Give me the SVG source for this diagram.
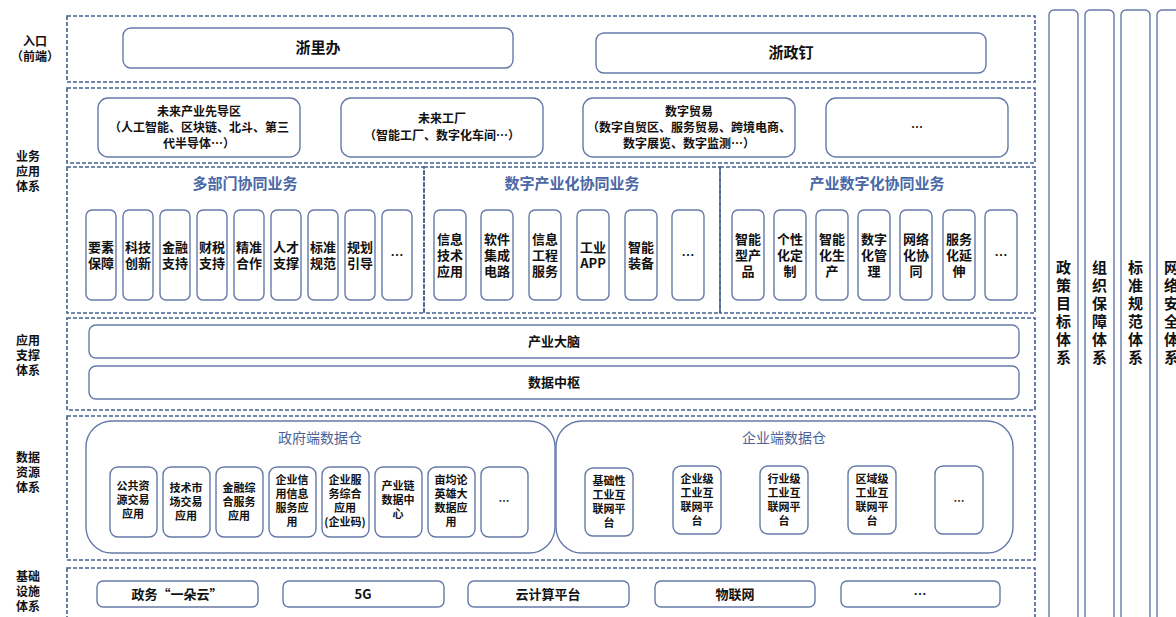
<svg xmlns="http://www.w3.org/2000/svg" width="1176" height="617" viewBox="0 0 1176 617">
<style>
.dash{fill:none;stroke:#44608f;stroke-width:1.6;stroke-dasharray:4 2}
.box{fill:#fff;stroke:#6579a8;stroke-width:1.4}
.t{font-family:"Noto Sans CJK SC","Noto Sans",sans-serif;font-weight:bold;fill:#111;text-anchor:middle}
.s12{font-size:12px}
.s11{font-size:11px}
.s13{font-size:13px}
.s15{font-size:15px}
.h{font-family:"Noto Sans CJK SC","Noto Sans",sans-serif;font-weight:bold;fill:#4a68a6;text-anchor:middle;font-size:15px}
.g{font-family:"Noto Sans CJK SC","Noto Sans",sans-serif;fill:#4d6296;text-anchor:middle;font-size:14px}
.lbl{font-family:"Noto Sans CJK SC","Noto Sans",sans-serif;font-weight:bold;fill:#111;text-anchor:middle;font-size:12px}
</style>
<rect width="1176" height="617" fill="#fff"/>

<g id="labels">
<text class="lbl" x="35" y="46">入口<tspan x="35" dy="15">（前端）</tspan></text>
<text class="lbl" x="28" y="161">业务<tspan x="28" dy="15">应用</tspan><tspan x="28" dy="15">体系</tspan></text>
<text class="lbl" x="28" y="345">应用<tspan x="28" dy="15">支撑</tspan><tspan x="28" dy="15">体系</tspan></text>
<text class="lbl" x="28" y="462">数据<tspan x="28" dy="15">资源</tspan><tspan x="28" dy="15">体系</tspan></text>
<text class="lbl" x="28" y="581">基础<tspan x="28" dy="15">设施</tspan><tspan x="28" dy="15">体系</tspan></text>
</g>

<g id="entry">
<rect class="dash" x="67" y="16" width="968" height="66"/>
<rect class="box" x="123" y="28" width="390" height="40" rx="8"/>
<text class="t s15" x="318" y="53">浙里办</text>
<rect class="box" x="596" y="33" width="390" height="40" rx="8"/>
<text class="t s15" x="791" y="58">浙政钉</text>
</g>

<g id="business">
<rect class="dash" x="67" y="88" width="968" height="75"/>
<rect class="box" x="98" y="98" width="202" height="59" rx="10"/>
<text class="t s12" x="199" y="116">未来产业先导区<tspan x="199" dy="16">（人工智能、区块链、北斗、第三</tspan><tspan x="199" dy="16">代半导体…）</tspan></text>
<rect class="box" x="341" y="98" width="202" height="59" rx="10"/>
<text class="t s12" x="442" y="123">未来工厂<tspan x="442" dy="17">（智能工厂、数字化车间…）</tspan></text>
<rect class="box" x="583" y="98" width="212" height="59" rx="10"/>
<text class="t s12" x="689" y="116">数字贸易<tspan x="689" dy="16">（数字自贸区、服务贸易、跨境电商、</tspan><tspan x="689" dy="16">数字展览、数字监测…）</tspan></text>
<rect class="box" x="826" y="98" width="182" height="59" rx="10"/>
<text class="t s12" x="917" y="132">…</text>
</g>

<g id="multi-dept">
<rect class="dash" x="67" y="167" width="357" height="146"/>
<text class="h" x="245" y="189">多部门协同业务</text>
<rect class="box" x="86" y="210" width="30" height="90" rx="6"/>
<text class="t s13" x="101" y="252">要素<tspan x="101" dy="16">保障</tspan></text>
<rect class="box" x="123" y="210" width="30" height="90" rx="6"/>
<text class="t s13" x="138" y="252">科技<tspan x="138" dy="16">创新</tspan></text>
<rect class="box" x="160" y="210" width="30" height="90" rx="6"/>
<text class="t s13" x="175" y="252">金融<tspan x="175" dy="16">支持</tspan></text>
<rect class="box" x="197" y="210" width="30" height="90" rx="6"/>
<text class="t s13" x="212" y="252">财税<tspan x="212" dy="16">支持</tspan></text>
<rect class="box" x="234" y="210" width="30" height="90" rx="6"/>
<text class="t s13" x="249" y="252">精准<tspan x="249" dy="16">合作</tspan></text>
<rect class="box" x="271" y="210" width="30" height="90" rx="6"/>
<text class="t s13" x="286" y="252">人才<tspan x="286" dy="16">支撑</tspan></text>
<rect class="box" x="308" y="210" width="30" height="90" rx="6"/>
<text class="t s13" x="323" y="252">标准<tspan x="323" dy="16">规范</tspan></text>
<rect class="box" x="345" y="210" width="30" height="90" rx="6"/>
<text class="t s13" x="360" y="252">规划<tspan x="360" dy="16">引导</tspan></text>
<rect class="box" x="382" y="210" width="30" height="90" rx="6"/>
<text class="t s13" x="397" y="260">…</text>
</g>

<g id="digital-industrialization">
<rect class="dash" x="424" y="167" width="296" height="146"/>
<text class="h" x="572" y="189">数字产业化协同业务</text>
<rect class="box" x="434" y="210" width="32" height="90" rx="6"/>
<text class="t s13" x="450" y="244">信息<tspan x="450" dy="16">技术</tspan><tspan x="450" dy="16">应用</tspan></text>
<rect class="box" x="481" y="210" width="32" height="90" rx="6"/>
<text class="t s13" x="497" y="244">软件<tspan x="497" dy="16">集成</tspan><tspan x="497" dy="16">电路</tspan></text>
<rect class="box" x="529" y="210" width="32" height="90" rx="6"/>
<text class="t s13" x="545" y="244">信息<tspan x="545" dy="16">工程</tspan><tspan x="545" dy="16">服务</tspan></text>
<rect class="box" x="577" y="210" width="32" height="90" rx="6"/>
<text class="t s13" x="593" y="252">工业<tspan x="593" dy="16">APP</tspan></text>
<rect class="box" x="625" y="210" width="32" height="90" rx="6"/>
<text class="t s13" x="641" y="252">智能<tspan x="641" dy="16">装备</tspan></text>
<rect class="box" x="672" y="210" width="32" height="90" rx="6"/>
<text class="t s13" x="688" y="260">…</text>
</g>

<g id="industry-digitalization">
<rect class="dash" x="720" y="167" width="315" height="146"/>
<text class="h" x="877" y="189">产业数字化协同业务</text>
<rect class="box" x="732" y="210" width="32" height="90" rx="6"/>
<text class="t s13" x="748" y="244">智能<tspan x="748" dy="16">型产</tspan><tspan x="748" dy="16">品</tspan></text>
<rect class="box" x="774" y="210" width="32" height="90" rx="6"/>
<text class="t s13" x="790" y="244">个性<tspan x="790" dy="16">化定</tspan><tspan x="790" dy="16">制</tspan></text>
<rect class="box" x="816" y="210" width="32" height="90" rx="6"/>
<text class="t s13" x="832" y="244">智能<tspan x="832" dy="16">化生</tspan><tspan x="832" dy="16">产</tspan></text>
<rect class="box" x="858" y="210" width="32" height="90" rx="6"/>
<text class="t s13" x="874" y="244">数字<tspan x="874" dy="16">化管</tspan><tspan x="874" dy="16">理</tspan></text>
<rect class="box" x="900" y="210" width="32" height="90" rx="6"/>
<text class="t s13" x="916" y="244">网络<tspan x="916" dy="16">化协</tspan><tspan x="916" dy="16">同</tspan></text>
<rect class="box" x="943" y="210" width="32" height="90" rx="6"/>
<text class="t s13" x="959" y="244">服务<tspan x="959" dy="16">化延</tspan><tspan x="959" dy="16">伸</tspan></text>
<rect class="box" x="985" y="210" width="32" height="90" rx="6"/>
<text class="t s13" x="1001" y="260">…</text>
</g>

<g id="support">
<rect class="dash" x="67" y="318" width="968" height="92"/>
<rect class="box" x="89" y="325" width="930" height="33" rx="7"/>
<text class="t s13" x="554" y="346">产业大脑</text>
<rect class="box" x="89" y="366" width="930" height="33" rx="7"/>
<text class="t s13" x="554" y="387">数据中枢</text>
</g>

<g id="data">
<rect class="dash" x="67" y="416" width="968" height="144"/>
<rect class="box" x="86" y="421" width="469" height="132" rx="26"/>
<text class="g" x="320" y="443">政府端数据仓</text>
<rect class="box" x="110" y="467" width="47" height="70" rx="8"/>
<text class="t s11" x="133" y="490">公共资<tspan x="133" dy="14">源交易</tspan><tspan x="133" dy="14">应用</tspan></text>
<rect class="box" x="163" y="467" width="47" height="70" rx="8"/>
<text class="t s11" x="186" y="492">技术市<tspan x="186" dy="14">场交易</tspan><tspan x="186" dy="14">应用</tspan></text>
<rect class="box" x="216" y="467" width="47" height="70" rx="8"/>
<text class="t s11" x="239" y="492">金融综<tspan x="239" dy="14">合服务</tspan><tspan x="239" dy="14">应用</tspan></text>
<rect class="box" x="269" y="467" width="47" height="70" rx="8"/>
<text class="t s11" x="292" y="484">企业信<tspan x="292" dy="14">用信息</tspan><tspan x="292" dy="14">服务应</tspan><tspan x="292" dy="14">用</tspan></text>
<rect class="box" x="322" y="467" width="47" height="70" rx="8"/>
<text class="t s11" x="345" y="484">企业服<tspan x="345" dy="14">务综合</tspan><tspan x="345" dy="14">应用</tspan><tspan x="345" dy="14">(企业码)</tspan></text>
<rect class="box" x="375" y="467" width="47" height="70" rx="8"/>
<text class="t s11" x="398" y="490">产业链<tspan x="398" dy="14">数据中</tspan><tspan x="398" dy="14">心</tspan></text>
<rect class="box" x="428" y="467" width="47" height="70" rx="8"/>
<text class="t s11" x="451" y="484">亩均论<tspan x="451" dy="14">英雄大</tspan><tspan x="451" dy="14">数据应</tspan><tspan x="451" dy="14">用</tspan></text>
<rect class="box" x="481" y="467" width="47" height="70" rx="8"/>
<text class="t s11" x="504" y="505">…</text>
<rect class="box" x="556" y="421" width="457" height="132" rx="26"/>
<text class="g" x="784" y="443">企业端数据仓</text>
<rect class="box" x="585" y="468" width="48" height="68" rx="8"/>
<text class="t s11" x="609" y="485">基础性<tspan x="609" dy="14">工业互</tspan><tspan x="609" dy="14">联网平</tspan><tspan x="609" dy="14">台</tspan></text>
<rect class="box" x="673" y="466" width="48" height="68" rx="8"/>
<text class="t s11" x="697" y="483">企业级<tspan x="697" dy="14">工业互</tspan><tspan x="697" dy="14">联网平</tspan><tspan x="697" dy="14">台</tspan></text>
<rect class="box" x="760" y="466" width="48" height="68" rx="8"/>
<text class="t s11" x="784" y="483">行业级<tspan x="784" dy="14">工业互</tspan><tspan x="784" dy="14">联网平</tspan><tspan x="784" dy="14">台</tspan></text>
<rect class="box" x="848" y="466" width="48" height="68" rx="8"/>
<text class="t s11" x="872" y="483">区域级<tspan x="872" dy="14">工业互</tspan><tspan x="872" dy="14">联网平</tspan><tspan x="872" dy="14">台</tspan></text>
<rect class="box" x="935" y="466" width="48" height="68" rx="8"/>
<text class="t s11" x="959" y="505">…</text>
</g>

<g id="infrastructure">
<rect class="dash" x="67" y="568" width="968" height="60"/>
<rect class="box" x="97" y="581" width="161" height="26" rx="6"/>
<text class="t s13" x="177" y="599">政务“一朵云”</text>
<rect class="box" x="283" y="581" width="161" height="26" rx="6"/>
<text class="t s13" x="363" y="599">5G</text>
<rect class="box" x="468" y="581" width="161" height="26" rx="6"/>
<text class="t s13" x="548" y="599">云计算平台</text>
<rect class="box" x="655" y="581" width="160" height="26" rx="6"/>
<text class="t s13" x="735" y="599">物联网</text>
<rect class="box" x="841" y="581" width="159" height="26" rx="6"/>
<text class="t s13" x="920" y="599">…</text>
</g>

<g id="pillars">
<rect class="box" x="1049" y="10" width="29" height="612" rx="5"/>
<text class="t s15" x="1063.5" y="273">政<tspan x="1063.5" dy="18">策</tspan><tspan x="1063.5" dy="18">目</tspan><tspan x="1063.5" dy="18">标</tspan><tspan x="1063.5" dy="18">体</tspan><tspan x="1063.5" dy="18">系</tspan></text>
<rect class="box" x="1085" y="10" width="29" height="612" rx="5"/>
<text class="t s15" x="1099.5" y="273">组<tspan x="1099.5" dy="18">织</tspan><tspan x="1099.5" dy="18">保</tspan><tspan x="1099.5" dy="18">障</tspan><tspan x="1099.5" dy="18">体</tspan><tspan x="1099.5" dy="18">系</tspan></text>
<rect class="box" x="1121" y="10" width="29" height="612" rx="5"/>
<text class="t s15" x="1135.5" y="273">标<tspan x="1135.5" dy="18">准</tspan><tspan x="1135.5" dy="18">规</tspan><tspan x="1135.5" dy="18">范</tspan><tspan x="1135.5" dy="18">体</tspan><tspan x="1135.5" dy="18">系</tspan></text>
<rect class="box" x="1157" y="10" width="29" height="612" rx="5"/>
<text class="t s15" x="1171.5" y="273">网<tspan x="1171.5" dy="18">络</tspan><tspan x="1171.5" dy="18">安</tspan><tspan x="1171.5" dy="18">全</tspan><tspan x="1171.5" dy="18">体</tspan><tspan x="1171.5" dy="18">系</tspan></text>
</g>
</svg>
